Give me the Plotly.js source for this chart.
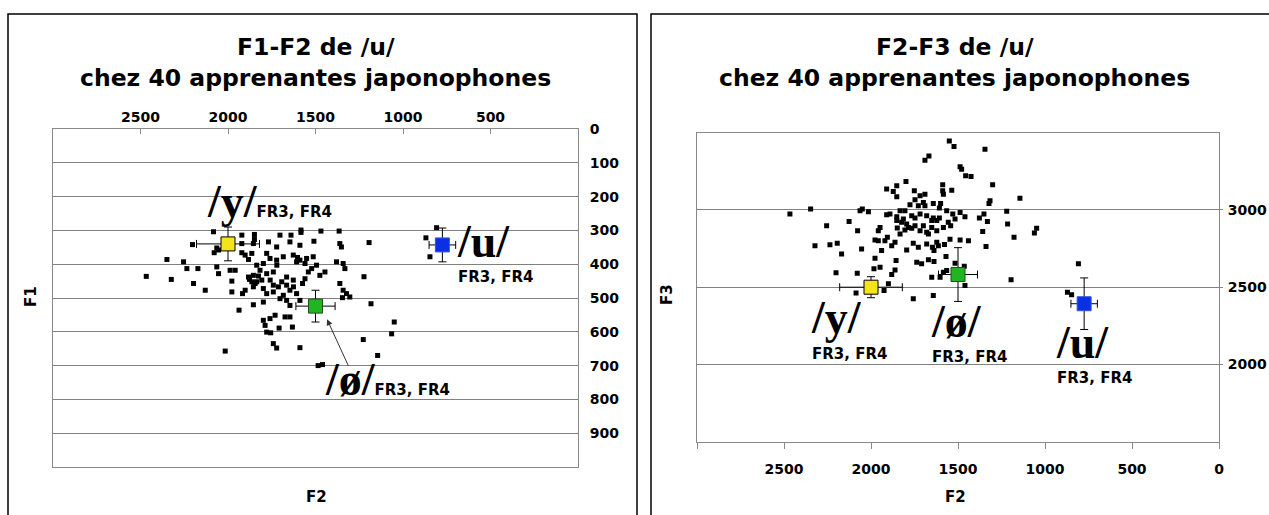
<!DOCTYPE html>
<html><head><meta charset="utf-8">
<script src="https://cdn.plot.ly/plotly-3.0.1.min.js"></script>
<style>html,body{margin:0;padding:0;background:#fff}#chart{width:1269px;height:515px}</style>
</head><body><div id="chart"></div>
<script>
// ---- Left chart: individual tokens (F2, F1) ----
const leftF2 = [
2083,1921,1849,1849,1703,1640,1583,1583,1469,1365,
2203,2064,2079,2054,1921,1855,1769,1722,1646,1589,
1509,1361,1352,2349,2254,2235,2172,2064,2054,1988,
1959,1921,1902,1864,1883,1836,1798,1779,1760,1722,
1684,1627,1608,1589,1551,1513,1494,1522,1541,1560,
1574,1627,1665,1693,1741,1779,1817,1855,1883,1864,
1836,1807,1798,1779,1855,1902,1917,1741,1712,1665,
1646,1608,1684,1665,1646,1589,1703,1741,2467,2324,
2197,2130,1978,1978,1446,1475,1380,1342,1332,1361,
1342,1323,1304,1346,1937,1855,1798,1798,1788,1760,
1731,1674,1646,1708,1632,1779,1756,1741,1722,1589,
2016,1485,1460,1194,808,869,846,1223,1183,1050,
1065,1227,1145,1877,1845,1826,1603,1560,1721,1759,
1626];
const leftF1 = [
304,314,312,327,314,314,299,306,302,302,
342,352,366,358,339,339,334,349,334,344,
332,339,349,386,393,413,413,408,428,418,
418,366,373,368,386,403,398,368,383,388,
378,373,393,388,383,378,403,413,423,443,
457,447,438,452,423,428,418,433,438,452,
452,447,472,487,467,477,487,462,467,462,
477,487,492,507,522,507,502,482,436,445,
457,477,482,450,423,433,393,398,413,457,
477,487,497,499,536,520,512,566,581,561,
551,556,556,589,586,601,603,635,648,647,
657,700,697,336,292,322,378,437,517,571,
606,623,670,445,457,435,380,398,403,447,
467];

// ---- Right chart: individual tokens (F2, F3) ----
const rightF2 = [
1550,1523,1345,1667,1690,1488,1479,1456,1425,1301,
1799,1852,1910,1872,1852,1751,1588,1588,1584,1536,
1690,1718,1747,1728,1690,1642,1600,1607,1776,1316,
1322,1144,2466,2347,2063,2050,2015,1910,1891,1852,
1833,1805,1766,1747,1718,1680,1642,1622,1607,1530,
1488,1460,1517,1556,1542,1584,1622,1651,1699,1747,
1795,1824,1852,1849,1805,1766,1718,1680,1948,1958,
2126,2255,2077,1377,1351,1331,1358,1220,1215,1048,
1061,1178,1339,1440,1488,1546,1578,1613,1647,1638,
1680,1728,1757,1795,1862,1881,1906,1920,1977,1958,
1939,1977,1948,1983,2054,2169,2236,2322,2194,2201,
2079,1856,1862,1881,1900,1925,2086,1757,1642,1737,
1709,1670,1638,1569,1517,1464,1460,1651,1603,1584,
1565,1195,871,847,808,1814,1785,1651,1670,1622,
1833,1699,1565];
const rightF3 = [
3446,3410,3393,3350,3322,3279,3264,3221,3216,3163,
3184,3156,3135,3120,3085,3124,3163,3124,3102,3128,
3102,3092,3066,3027,3027,3042,3042,3012,3034,3060,
3042,3075,2973,3006,2995,3006,2989,2969,2973,2956,
2995,2995,2963,2948,2973,2963,2948,2931,2948,2973,
2984,2956,2941,2920,2898,2887,2866,2887,2898,2898,
2909,2920,2931,2883,2870,2881,2866,2855,2887,2866,
2926,2898,2866,2948,2973,2926,2860,2991,2909,2881,
2851,2823,2763,2801,2806,2810,2776,2769,2758,2737,
2780,2758,2784,2741,2791,2769,2823,2801,2806,2801,
2737,2688,2629,2619,2748,2715,2774,2769,2784,2593,
2591,2673,2612,2582,2522,2479,2462,2425,2447,2662,
2651,2677,2666,2698,2655,2636,2511,2565,2565,2597,
2608,2548,2468,2451,2651,2941,2887,2931,2844,2791,
2844,3049,2995];

// ---- Reference vowels (FR3, FR4) ----
const vowels = ['/y/', '/ø/', '/u/'];
const meanF2 = [2000, 1500, 775];
const sdF2 = [180, 112, 76];
const meanF1 = [340, 524, 343];
const sdF1 = [50, 47, 50];
const meanF3 = [2500, 2582, 2393];
const sdF3 = [68, 174, 167];
const vowelFill = ['#f4e41e', '#22b522', '#0b2fe4'];
const vowelEdge = ['#000000', '#1f4f1f', '#3355dd'];

const leftF2Ticks = [2500, 2000, 1500, 1000, 500];
const leftF1Ticks = [0, 100, 200, 300, 400, 500, 600, 700, 800, 900];
const rightF2Ticks = [3000, 2500, 2000, 1500, 1000, 500, 0];
const rightF2Labels = ['', '2500', '2000', '1500', '1000', '500', '0'];
const rightF3Ticks = [2000, 2500, 3000];

const titleLine1 = ['F1-F2 de /u/', 'F2-F3 de /u/'];
const titleLine2 = 'chez 40 apprenantes japonophones';
const subLabel = 'FR3, FR4';

const tickFont = {family: 'DejaVu Sans', size: 14, weight: 'bold', color: '#000'};
const titleFont = {family: 'DejaVu Sans', size: 23.5, weight: 'bold', color: '#000'};
const axTitleFont = {family: 'DejaVu Sans', size: 15, weight: 'bold', color: '#000'};

const bigSpan = (t) => '<span style="font-family:Liberation Serif;font-size:46px">' + t + '</span>';
const subSpan = (t) => '<span style="font-family:DejaVu Sans;font-size:15px">' + t + '</span>';

const traces = [];
traces.push({type: 'scatter', mode: 'markers', x: leftF2, y: leftF1, xaxis: 'x', yaxis: 'y',
  marker: {symbol: 'square', size: 5, color: '#000'}, hoverinfo: 'skip'});
traces.push({type: 'scatter', mode: 'markers', x: rightF2, y: rightF3, xaxis: 'x2', yaxis: 'y2',
  marker: {symbol: 'square', size: 5, color: '#000'}, hoverinfo: 'skip'});
for (let i = 0; i < vowels.length; i++) {
  const eb = (arr) => ({type: 'data', array: [arr[i]], color: '#000', thickness: 1, width: 4});
  traces.push({type: 'scatter', mode: 'markers', x: [meanF2[i]], y: [meanF1[i]], xaxis: 'x', yaxis: 'y',
    marker: {symbol: 'square', size: 14, color: vowelFill[i], line: {color: vowelEdge[i], width: 1}},
    error_x: eb(sdF2), error_y: eb(sdF1)});
  traces.push({type: 'scatter', mode: 'markers', x: [meanF2[i]], y: [meanF3[i]], xaxis: 'x2', yaxis: 'y2',
    marker: {symbol: 'square', size: 14, color: vowelFill[i], line: {color: vowelEdge[i], width: 1}},
    error_x: eb(sdF2), error_y: eb(sdF3)});
}

const ann = [];
// titles
[0.249, 0.7525].forEach((cx, k) => {
  ann.push({xref: 'paper', yref: 'paper', x: cx, y: 1 - 47/515, text: titleLine1[k], showarrow: false,
    font: titleFont, xanchor: 'center', yanchor: 'middle'});
  ann.push({xref: 'paper', yref: 'paper', x: cx, y: 1 - 78/515, text: titleLine2, showarrow: false,
    font: titleFont, xanchor: 'center', yanchor: 'middle'});
});
// axis titles
ann.push({xref: 'paper', yref: 'paper', x: 316/1269, y: 1 - 497/515, text: 'F2', showarrow: false, font: axTitleFont, xanchor: 'center', yanchor: 'middle'});
ann.push({xref: 'paper', yref: 'paper', x: 955/1269, y: 1 - 497/515, text: 'F2', showarrow: false, font: axTitleFont, xanchor: 'center', yanchor: 'middle'});
ann.push({xref: 'paper', yref: 'paper', x: 31/1269, y: 1 - 297/515, text: 'F1', showarrow: false, font: axTitleFont, textangle: -90, xanchor: 'center', yanchor: 'middle'});
ann.push({xref: 'paper', yref: 'paper', x: 667/1269, y: 1 - 295/515, text: 'F3', showarrow: false, font: axTitleFont, textangle: -90, xanchor: 'center', yanchor: 'middle'});

// vowel labels: top-left corner of each label block (data coords) and its line spacing base
const leftLabelPos = [[2119, 139], [1446, 667], [693, 256]];
const leftLabelInline = [true, true, false];
const leftLineBase = [14, 14, 19.2];
const rightLabelPos = [[2345, 2466], [1655, 2446], [934, 2308]];
const rightLineBase = [20, 19.2, 19.2];
for (let i = 0; i < 3; i++) {
  const lt = leftLabelInline[i] ? bigSpan(vowels[i]) + subSpan(subLabel)
                                : bigSpan(vowels[i]) + '<br>' + subSpan(subLabel);
  ann.push({xref: 'x', yref: 'y', x: leftLabelPos[i][0], y: leftLabelPos[i][1], text: lt,
    showarrow: false, xanchor: 'left', yanchor: 'top', align: 'left', borderpad: 0, borderwidth: 0,
    font: {family: 'DejaVu Sans', size: leftLineBase[i], weight: 'bold', color: '#000'}});
  ann.push({xref: 'x2', yref: 'y2', x: rightLabelPos[i][0], y: rightLabelPos[i][1],
    text: bigSpan(vowels[i]) + '<br>' + subSpan(subLabel),
    showarrow: false, xanchor: 'left', yanchor: 'top', align: 'left', borderpad: 0, borderwidth: 0,
    font: {family: 'DejaVu Sans', size: rightLineBase[i], weight: 'bold', color: '#000'}});
}
// arrow to /ø/
ann.push({xref: 'x', yref: 'y', x: 1434, y: 563, ax: 22, ay: 48, text: '', showarrow: true,
  arrowhead: 2, arrowsize: 1.2, arrowwidth: 1, arrowcolor: '#333'});

const shapes = [
  {type: 'rect', xref: 'paper', yref: 'paper', x0: 8/1269, x1: 637/1269, y0: -0.1, y1: 1 - 14/515,
   line: {color: '#000', width: 1.5}},
  {type: 'rect', xref: 'paper', yref: 'paper', x0: 651/1269, x1: 1.1, y0: -0.1, y1: 1 - 14/515,
   line: {color: '#000', width: 1.5}}
];

const layout = {
  width: 1269, height: 515, margin: {l: 0, r: 0, t: 0, b: 0},
  paper_bgcolor: '#fff', plot_bgcolor: '#fff', showlegend: false,
  xaxis: {domain: [53/1269, 578/1269], range: [3000, 0], side: 'top', anchor: 'y',
    showgrid: false, zeroline: false, showline: true, mirror: true, linecolor: '#888', linewidth: 1,
    tickvals: leftF2Ticks, ticks: 'inside', ticklen: 5, tickcolor: '#888', tickfont: tickFont,
    ticklabelstandoff: 0, fixedrange: true},
  yaxis: {domain: [1 - 467/515, 1 - 129/515], range: [1000, 0], side: 'right', anchor: 'x',
    showgrid: true, gridcolor: '#808080', gridwidth: 1, zeroline: false, showline: true, mirror: true,
    linecolor: '#888', linewidth: 1, tickvals: leftF1Ticks, ticks: '', tickfont: tickFont,
    ticklabelstandoff: 8, fixedrange: true},
  xaxis2: {domain: [697/1269, 1219/1269], range: [3000, 0], side: 'bottom', anchor: 'y2',
    showgrid: false, zeroline: false, showline: true, mirror: true, linecolor: '#888', linewidth: 1,
    tickvals: rightF2Ticks, ticktext: rightF2Labels, ticks: 'outside', ticklen: 6, tickcolor: '#888',
    tickfont: tickFont, ticklabelstandoff: 8, fixedrange: true},
  yaxis2: {domain: [1 - 441.7/515, 1 - 132.7/515], range: [1500, 3500], side: 'right', anchor: 'x2',
    showgrid: true, gridcolor: '#808080', gridwidth: 1, zeroline: false, showline: true, mirror: true,
    linecolor: '#888', linewidth: 1, tickvals: rightF3Ticks, ticks: 'outside', ticklen: 3, tickcolor: '#888',
    tickfont: tickFont, ticklabelstandoff: 2, fixedrange: true},
  annotations: ann, shapes: shapes
};

Plotly.newPlot('chart', traces, layout, {displayModeBar: false, staticPlot: true});
</script>
</body></html>
